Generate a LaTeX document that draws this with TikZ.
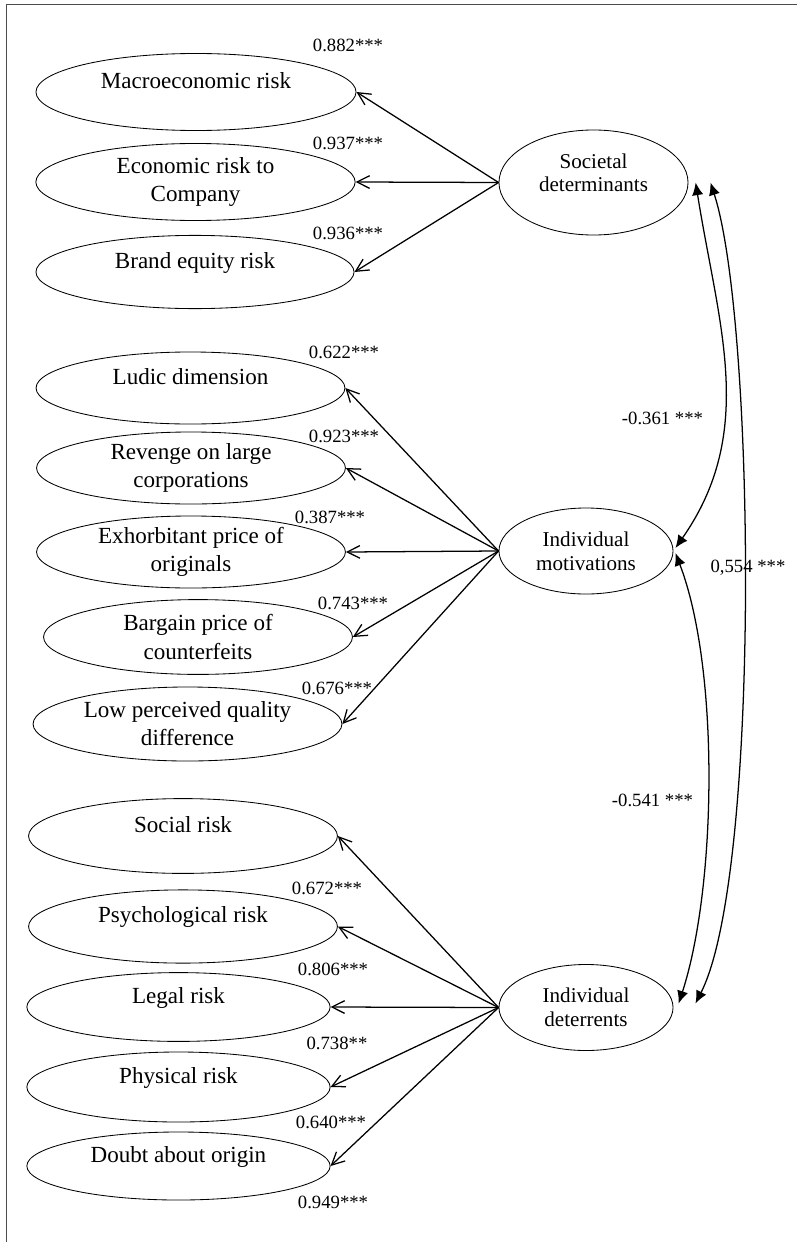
\documentclass[tikz,border=0pt]{standalone}
\usepackage{fontspec}
\setmainfont{Liberation Serif}
\usetikzlibrary{shapes.geometric,arrows.meta}

\begin{document}
\begin{tikzpicture}[x=0.025cm,y=-0.025cm,
  item/.style={ellipse,draw,line width=0.6pt,inner sep=0pt,align=center,
    minimum width=7.72cm,minimum height=1.8cm,font=\fontsize{16.4}{20}\selectfont},
  oneline/.style={text depth=17pt},
  factor/.style={ellipse,draw,line width=0.6pt,inner sep=0pt,align=center,
    minimum width=4.35cm,minimum height=2.15cm,font=\fontsize{15}{17}\selectfont},
  loading/.style={font=\fontsize{13.3}{16}\selectfont,inner sep=0pt},
  arr/.style={line width=0.9pt,-{Straight Barb[length=9pt,width=9pt]}},
  corr/.style={line width=0.9pt,{Latex[length=9pt,width=8pt]}-{Latex[length=9pt,width=8pt]}}]
  \useasboundingbox (0,0) rectangle (797,1242);
  \draw[black!70,line width=0.7pt] (6,1242) -- (6,4) -- (797,4);

  % latent constructs
  \node[factor,minimum width=4.725cm,minimum height=2.625cm,text depth=14pt] (soc) at (593.5,182.5) {Societal\\determinants};
  \node[factor] (mot) at (586,551) {Individual\\motivations};
  \node[factor] (det) at (586,1007.5) {Individual\\deterrents};

  % societal determinants
  \node[item,oneline,minimum width=8cm,minimum height=1.925cm] (macro) at (196,92) {Macroeconomic risk};
  \node[item,minimum width=7.98cm,minimum height=1.925cm] (eco) at (195.5,182) {Economic risk to\\Company};
  \node[item,oneline,minimum width=7.95cm,minimum height=1.83cm] (brand) at (195,272) {Brand equity risk};

  % individual motivations
  \node[item,oneline] (ludic) at (190.5,388) {Ludic dimension};
  \node[item] (revenge) at (191,468) {Revenge on large\\corporations};
  \node[item] (exprice) at (191,552) {Exhorbitant price of\\originals};
  \node[item,minimum height=1.87cm] (bargain) at (198,637) {Bargain price of\\counterfeits};
  \node[item,minimum height=1.85cm] (quality) at (187.5,724) {Low perceived quality\\difference};

  % individual deterrents
  \node[item,oneline,minimum height=1.87cm] (social) at (183,836) {Social risk};
  \node[item,oneline,minimum height=1.83cm] (psych) at (183,926.5) {Psychological risk};
  \node[item,oneline,minimum width=7.58cm,minimum height=1.72cm] (legal) at (178.5,1007) {Legal risk};
  \node[item,oneline,minimum width=7.58cm,minimum height=1.75cm] (physical) at (178.5,1087) {Physical risk};
  \node[item,oneline,minimum width=7.58cm,minimum height=1.7cm] (doubt) at (178.5,1166) {Doubt about origin};

  \foreach \n in {macro,eco,brand} \draw[arr] (soc.west) -- (\n.east);
  \foreach \n in {ludic,revenge,exprice,bargain,quality} \draw[arr] (mot.west) -- (\n.east);
  \foreach \n in {social,psych,legal,physical,doubt} \draw[arr] (det.west) -- (\n.east);

  % correlations between the constructs
  \draw[corr] ([xshift=0.18cm]soc.east) to[out=-81,in=55] ([xshift=0.05cm,yshift=0.075cm]mot.east);
  \draw[corr] ([xshift=0.55cm]soc.east) to[out=-72,in=63,looseness=0.45] ([xshift=0.55cm,yshift=0.1cm]det.east);
  \draw[corr] ([xshift=0.05cm,yshift=-0.05cm]mot.east) to[out=-69,in=72,looseness=0.7] ([xshift=0.13cm,yshift=0.1cm]det.east);
  \node[loading] (r1) at (662.5,418) {-0.361 ***};
  \node[loading] (r2) at (748,568) {0,554 ***};
  \node[loading] (r3) at (652.5,800) {-0.541 ***};

  % loadings
  \foreach \x/\y/\t [count=\i] in {348/45/0.882***,348/143/0.937***,348/233/0.936***,
      344/352/0.622***,344/436/0.923***,330/517/0.387***,353/603/0.743***,337/688/0.676***,
      327/888/0.672***,333/969/0.806***,337/1043/0.738**,331/1122/0.640***,333/1202/0.949***}
    \node[loading] (ld\i) at (\x,\y) {\t};
\end{tikzpicture}
\end{document}
